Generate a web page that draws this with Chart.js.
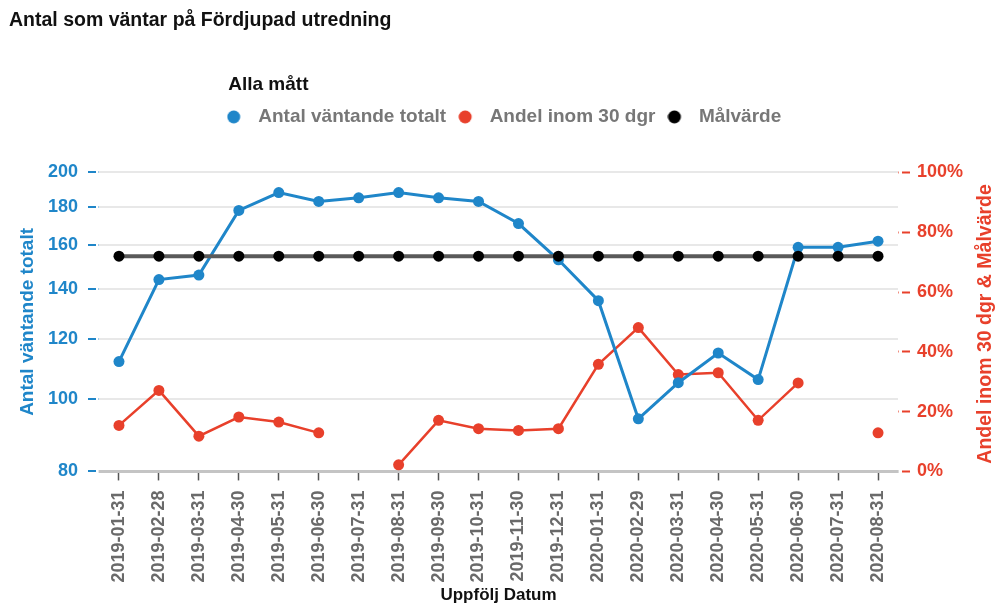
<!DOCTYPE html>
<html>
<head>
<meta charset="utf-8">
<script src="https://cdn.jsdelivr.net/npm/chart.js@4/dist/chart.umd.min.js"></script>
<style>
  html, body { margin: 0; padding: 0; background: #fff; }
  #wrap { position: relative; width: 999px; height: 603px; }
</style>
</head>
<body>
<div id="wrap"><canvas id="c" width="999" height="603"></canvas></div>
<script>
// ---- data ----
const categories = ['2019-01-31','2019-02-28','2019-03-31','2019-04-30','2019-05-31','2019-06-30','2019-07-31','2019-08-31','2019-09-30','2019-10-31','2019-11-30','2019-12-31','2020-01-31','2020-02-29','2020-03-31','2020-04-30','2020-05-31','2020-06-30','2020-07-31','2020-08-31'];
const antalVantande = [112,144,146,178,188,183,185,188,185,183,171,153,135,94,105,115,106,159,159,162];
const andelInom30 = [15.4,27.1,11.8,18.2,16.5,12.9,null,2.2,17.1,14.3,13.7,14.3,35.8,48.1,32.4,33.0,17.1,29.6,null,12.9];
const malvarde = [72,72,72,72,72,72,72,72,72,72,72,72,72,72,72,72,72,72,72,72];
const leftTicks = [80,100,120,140,160,180,200];
const rightTicks = [0,20,40,60,80,100];

const BLUE = '#1f86c9', RED = '#e8402b', BLACK = '#000000';
const FONT = "'Liberation Sans', Arial, sans-serif";
Chart.defaults.font.family = FONT;

function dot(color) {
  const c = document.createElement('canvas');
  c.width = 22; c.height = 14;
  const g = c.getContext('2d');
  g.fillStyle = color;
  g.beginPath(); g.arc(7, 7, 6.5, 0, Math.PI * 2); g.fill();
  return c;
}

const decor = {
  id: 'decor',
  beforeDatasetsDraw(chart) {
    const {ctx, chartArea: a} = chart;
    ctx.save();
    ctx.fillStyle = '#ffffff';
    ctx.fillRect(a.left - 3, a.top - 5, 2.6, a.bottom - a.top + 10);
    ctx.fillRect(a.right + 0.6, a.top - 5, 3.4, a.bottom - a.top + 10);
    ctx.restore();
  },
  afterDraw(chart) {
    const {ctx, chartArea: a} = chart;
    const s = chart.scales.y1;
    ctx.save();
    // legend title, aligned with the first legend marker
    const lg = chart.legend;
    if (lg && lg.legendHitBoxes && lg.legendHitBoxes.length) {
      ctx.font = 'bold 19px ' + FONT;
      ctx.fillStyle = '#111';
      ctx.textAlign = 'left';
      ctx.textBaseline = 'middle';
      ctx.fillText('Alla mått', lg.legendHitBoxes[0].left + 1.5, lg.top - 10.5);
    }
    // right axis title, reading bottom to top
    ctx.translate(s.right - 13, (a.top + a.bottom) / 2 + 2);
    ctx.rotate(-Math.PI / 2);
    ctx.font = 'bold 19.5px ' + FONT;
    ctx.fillStyle = RED;
    ctx.textAlign = 'center';
    ctx.textBaseline = 'middle';
    ctx.fillText('Andel inom 30 dgr & Målvärde', 0, 0);
    ctx.restore();
  }
};

new Chart(document.getElementById('c'), {
  type: 'line',
  data: {
    labels: categories,
    datasets: [
      { label: 'Antal väntande totalt', data: antalVantande, yAxisID: 'y', order: 1,
        borderColor: BLUE, backgroundColor: BLUE, borderWidth: 3,
        pointRadius: 5.5, pointBackgroundColor: BLUE, pointBorderColor: BLUE, pointBorderWidth: 0, tension: 0 },
      { label: 'Andel inom 30 dgr', data: andelInom30, yAxisID: 'y1', order: 2,
        borderColor: RED, backgroundColor: RED, borderWidth: 2.5, spanGaps: false,
        pointRadius: 5.5, pointBackgroundColor: RED, pointBorderColor: RED, pointBorderWidth: 0, tension: 0 },
      { label: 'Målvärde', data: malvarde, yAxisID: 'y1', order: 0,
        borderColor: '#5a5a5a', backgroundColor: BLACK, borderWidth: 4,
        pointRadius: 5.5, pointBackgroundColor: BLACK, pointBorderColor: BLACK, pointBorderWidth: 0, tension: 0 }
    ]
  },
  options: {
    responsive: false,
    animation: false,
    events: [],
    layout: { padding: { left: 9, right: 0, top: 0, bottom: 0 } },
    plugins: {
      title: {
        display: true, text: 'Antal som väntar på Fördjupad utredning', align: 'start',
        color: '#111', font: { size: 19.5, weight: 'bold', lineHeight: 1.2 },
        padding: { top: 9, bottom: 63 }
      },
      subtitle: {
        display: true, text: '', weight: 500,
        font: { size: 10, lineHeight: 1 }, padding: { top: 26, bottom: 0 }
      },
      legend: {
        display: true, position: 'top', align: 'center',
        title: { display: false },
        labels: {
          usePointStyle: true, pointStyleWidth: 22, padding: 12,
          color: '#777', font: { size: 19, weight: 'bold' },
          sort: (a, b) => a.datasetIndex - b.datasetIndex,
          generateLabels(chart) {
            const items = Chart.defaults.plugins.legend.labels.generateLabels(chart);
            items.forEach(it => { it.pointStyle = dot(it.fillStyle); });
            return items;
          }
        }
      },
      tooltip: { enabled: false }
    },
    scales: {
      x: {
        type: 'category', offset: true,
        grid: { display: true, drawOnChartArea: false, offset: false, tickLength: 9, tickColor: '#555', tickWidth: 1.5 },
        border: { display: true, color: '#c4c4c4', width: 3 },
        ticks: { autoSkip: false, minRotation: 90, maxRotation: 90, padding: 10, color: '#6a6a6a',
                 font: { size: 18, weight: 'bold' } },
        title: { display: true, text: 'Uppfölj Datum', color: '#111',
                 font: { size: 17, weight: 'bold', lineHeight: 1 }, padding: { top: -6, bottom: -0.5 } }
      },
      y: {
        type: 'logarithmic', position: 'left', min: 80, max: 200,
        afterBuildTicks: (s) => { s.ticks = leftTicks.map(v => ({ value: v })); },
        afterFit: (s) => { s.width = 90; },
        grid: { color: '#e8e8e8', lineWidth: 2, tickColor: BLUE, tickWidth: 2, tickLength: 11 },
        border: { display: false },
        ticks: { color: BLUE, padding: 10, font: { size: 18, weight: 'bold' }, callback: (v) => String(v) },
        title: { display: true, text: 'Antal väntande totalt', color: BLUE,
                 font: { size: 19, weight: 'bold', lineHeight: 1.2 }, padding: { top: 7, bottom: 0 } }
      },
      y1: {
        type: 'linear', position: 'right', min: 0, max: 100,
        afterBuildTicks: (s) => { s.ticks = rightTicks.map(v => ({ value: v })); },
        afterFit: (s) => { s.width = 101; },
        grid: { drawOnChartArea: false, tickColor: RED, tickWidth: 2, tickLength: 12 },
        border: { display: false },
        ticks: { color: RED, padding: 7, font: { size: 18, weight: 'bold' }, callback: (v) => v + '%' }
      }
    }
  },
  plugins: [decor]
});
</script>
</body>
</html>
